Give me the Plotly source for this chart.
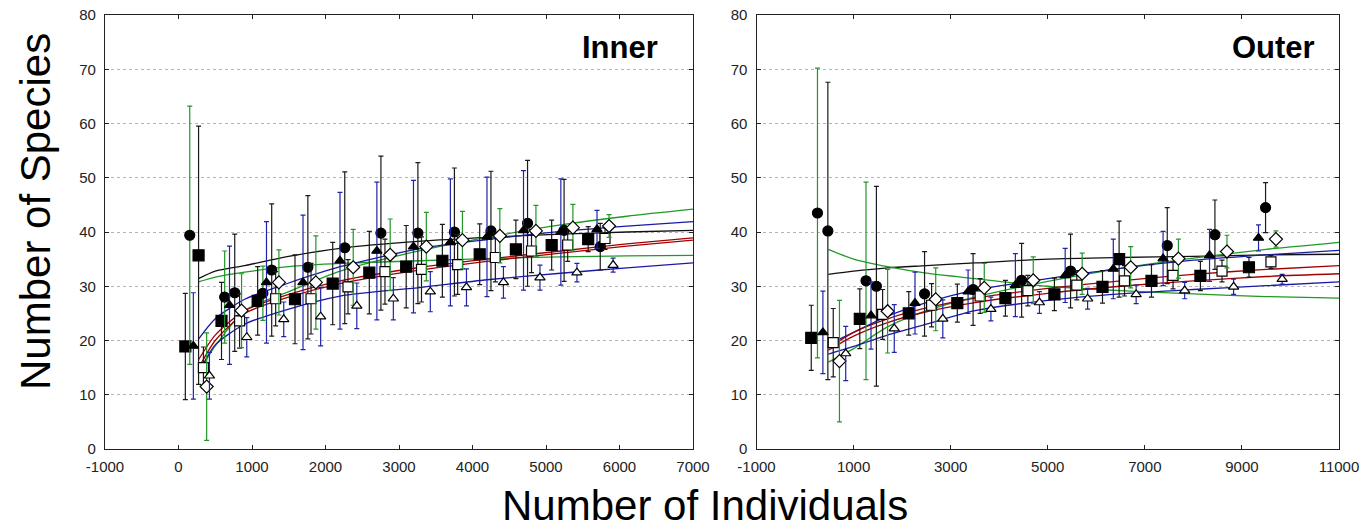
import plotly.graph_objects as go

# ---------------- data: INNER panel ----------------
in_curve_x = [270, 500, 900, 1500, 2200, 3300, 4200, 5200, 6100, 7000]
in_black = [31.4, 32.8, 33.8, 35.5, 37.0, 38.3, 39.0, 39.6, 40.0, 40.3]
in_green_lo = [30.8, 31.7, 32.6, 33.6, 34.2, 34.7, 35.1, 35.4, 35.6, 35.7]
in_green_up = [14.0, 19.0, 25.5, 29.0, 32.8, 36.6, 39.0, 41.3, 42.9, 44.2]
in_blue_up = [20.2, 24.0, 27.6, 30.6, 33.6, 37.0, 38.6, 40.1, 41.1, 41.9]
in_red_a = [16.4, 21.0, 25.5, 28.5, 31.0, 33.5, 35.0, 36.5, 37.8, 38.9]
in_red_b = [14.8, 20.0, 25.0, 28.0, 30.5, 33.0, 34.6, 36.1, 37.4, 38.5]
in_blue_lo = [14.0, 19.2, 23.0, 25.8, 28.2, 29.8, 31.2, 32.4, 33.4, 34.3]

in_fsq_x = [93, 273, 585, 1077, 1585, 2098, 2596, 3098, 3590, 4098, 4590, 5077, 5574]
in_fsq_y = [18.9, 35.7, 23.6, 27.3, 27.6, 30.5, 32.5, 33.6, 34.7, 35.9, 36.8, 37.6, 38.7]
in_fsq_e = [9.8, 23.8, 7.1, 6.3, 8.2, 7.6, 7.6, 7.6, 6.7, 5.6, 5.4, 4.6, 2.3]
in_fsq_c = ["k"] * 13

in_fci_x = [153, 628, 765, 1148, 1268, 1760, 2262, 2754, 3257, 3754, 4251, 4749, 5246, 5738]
in_fci_y = [39.4, 28.0, 28.8, 28.7, 33.0, 33.5, 37.1, 39.8, 39.8, 40.0, 40.2, 41.6, 40.3, 37.3]
in_fci_e = [23.8, 8.5, 10.8, 5.0, 12.2, 13.2, 14.0, 14.2, 13.0, 11.8, 11.0, 11.6, 9.4, 4.3]
in_fci_c = ["g", "g", "k", "g", "k", "k", "k", "k", "k", "k", "k", "k", "k", "k"]

in_ftr_x = [202, 694, 1197, 1694, 2197, 2699, 3197, 3699, 4197, 4694, 5202, 5694]
in_ftr_y = [19.0, 26.5, 30.7, 30.7, 34.7, 36.5, 37.3, 38.1, 39.1, 40.3, 40.0, 40.5]
in_ftr_e = [9.8, 10.9, 11.2, 12.4, 12.6, 12.7, 12.2, 11.7, 11.0, 11.0, 9.8, 3.5]
in_ftr_c = ["b"] * 12

in_osq_x = [339, 831, 1322, 1803, 2306, 2809, 3306, 3798, 4311, 4803, 5295, 5803]
in_osq_y = [15.0, 23.6, 27.7, 27.7, 29.9, 32.7, 33.1, 34.0, 35.3, 36.5, 37.6, 38.8]
in_osq_e = [3.8, 5.0, 5.0, 6.5, 5.0, 6.0, 6.0, 5.5, 4.5, 4.0, 3.0, 2.0]
in_osq_c = ["k"] * 12

in_odi_x = [383, 858, 1366, 1869, 2377, 2880, 3372, 3863, 4372, 4863, 5366, 5858]
in_odi_y = [11.5, 25.5, 30.7, 30.7, 33.5, 35.8, 37.3, 38.5, 39.3, 40.2, 40.8, 41.1]
in_odi_e = [9.9, 6.8, 6.0, 8.6, 7.0, 6.6, 6.3, 5.3, 5.0, 4.7, 4.3, 2.1]
in_odi_c = ["g"] * 12

in_otr_x = [421, 929, 1432, 1934, 2426, 2923, 3426, 3918, 4421, 4918, 5421, 5913]
in_otr_y = [13.5, 20.6, 23.9, 24.4, 26.4, 27.7, 29.0, 29.8, 30.7, 31.6, 32.5, 33.9]
in_otr_e = [4.3, 3.6, 3.2, 5.4, 4.2, 3.9, 3.7, 3.4, 2.9, 2.3, 1.7, 1.3]
in_otr_c = ["b"] * 12

# ---------------- data: OUTER panel ----------------
out_curve_x = [480, 1000, 1700, 2500, 3500, 5000, 6500, 8000, 9500, 11000]
out_black = [32.2, 32.8, 33.4, 33.8, 34.3, 35.0, 35.3, 35.5, 35.8, 35.9]
out_green_desc = [36.8, 35.0, 33.6, 32.4, 31.4, 30.0, 29.2, 28.6, 28.1, 27.8]
out_green_rise = [16.0, 18.5, 22.5, 25.5, 28.0, 30.9, 33.3, 35.2, 36.8, 38.1]
out_blue_up = [19.3, 21.5, 24.5, 27.0, 29.3, 31.4, 33.3, 34.8, 35.8, 36.6]
out_red_a = [18.6, 21.5, 24.0, 26.0, 27.8, 29.6, 31.0, 32.2, 33.1, 33.8]
out_red_b = [18.2, 20.8, 23.3, 25.3, 27.0, 28.7, 30.0, 31.0, 31.8, 32.3]
out_blue_lo = [17.5, 18.9, 21.0, 23.0, 25.5, 27.4, 28.6, 29.4, 30.1, 30.8]

out_fsq_x = [128, 1128, 2137, 3137, 4128, 5137, 6128, 6470, 7137, 8145, 9145]
out_fsq_y = [20.5, 24.0, 25.0, 26.9, 27.8, 28.5, 29.9, 35.0, 31.0, 31.9, 33.5]
out_fsq_e = [6.0, 5.5, 4.0, 3.5, 3.3, 3.0, 3.0, 7.0, 3.0, 2.7, 1.8]
out_fsq_c = ["k"] * 11

out_fci_x = [256, 470, 1256, 1470, 2462, 3462, 4462, 5470, 7462, 8444, 9487]
out_fci_y = [43.5, 40.2, 31.0, 30.0, 28.6, 29.4, 31.1, 32.8, 37.5, 39.5, 44.5]
out_fci_e = [26.7, 27.4, 18.2, 18.4, 7.8, 6.6, 6.8, 6.8, 7.0, 6.4, 4.6]
out_fci_c = ["g", "k", "g", "k", "k", "k", "k", "k", "k", "k", "k"]

out_ftr_x = [368, 1359, 2265, 3359, 4333, 5359, 6350, 7376, 8333, 9342]
out_ftr_y = [21.5, 24.6, 26.9, 29.0, 30.2, 32.0, 33.2, 35.1, 35.7, 38.9]
out_ftr_e = [7.6, 6.2, 5.7, 4.0, 5.8, 5.0, 5.5, 5.0, 4.8, 2.4]
out_ftr_c = ["b"] * 10

out_osq_x = [581, 1598, 2607, 3607, 4590, 5598, 6581, 7581, 8590, 9598]
out_osq_y = [19.6, 24.8, 26.5, 28.2, 29.2, 30.2, 31.0, 32.0, 32.8, 34.5]
out_osq_e = [6.3, 4.6, 4.0, 3.2, 2.8, 2.7, 2.8, 2.5, 2.0, 1.2]
out_osq_c = ["k"] * 10

out_odi_x = [709, 1701, 2692, 3692, 4701, 5709, 6709, 7692, 8692, 9701]
out_odi_y = [16.2, 25.4, 27.6, 29.7, 31.1, 32.3, 33.5, 35.1, 36.4, 38.7]
out_odi_e = [11.2, 7.7, 5.8, 4.5, 4.3, 3.8, 3.8, 3.6, 3.0, 1.5]
out_odi_c = ["g"] * 10

out_otr_x = [838, 1838, 2838, 3829, 4829, 5821, 6821, 7821, 8829, 9829]
out_otr_y = [17.6, 22.2, 24.0, 25.8, 27.0, 27.7, 28.5, 29.2, 29.9, 31.3]
out_otr_e = [5.0, 4.4, 3.5, 2.2, 2.0, 1.9, 1.7, 1.5, 1.4, 0.9]
out_otr_c = ["b"] * 10

in_xticks = [-1000, 0, 1000, 2000, 3000, 4000, 5000, 6000, 7000]
out_xticks = [-1000, 1000, 3000, 5000, 7000, 9000, 11000]
y_ticks = [0, 10, 20, 30, 40, 50, 60, 70, 80]

# ---------------- styling ----------------
ECOL = {"k": "#1a1a1a", "g": "#22962a", "b": "#1f24a8"}
LBLACK, LGREEN, LBLUE, LRED = "#111111", "#1f9a25", "#1a1aa6", "#a50000"
W, H = 1371, 532
FONT = "Liberation Sans, Arial, sans-serif"


def px(xpage):
    return xpage / W


def py(ypage):
    return 1 - ypage / H


fig = go.Figure()


def add_curve(x, y, color, xa, ya):
    fig.add_trace(go.Scatter(x=x, y=y, mode="lines", xaxis=xa, yaxis=ya,
                             line=dict(color=color, width=1.3, shape="spline", smoothing=0.7),
                             hoverinfo="skip", showlegend=False))


def add_points(x, y, e, c, symbol, filled, size, xa, ya):
    for code in sorted(set(c)):
        idx = [i for i, cc in enumerate(c) if cc == code]
        fig.add_trace(go.Scatter(
            x=[x[i] for i in idx], y=[y[i] for i in idx], mode="markers",
            xaxis=xa, yaxis=ya, showlegend=False,
            error_y=dict(type="data", array=[e[i] for i in idx], visible=True,
                         color=ECOL[code], thickness=1.2, width=2.5),
            marker=dict(symbol=symbol, size=size,
                        color="#000000" if filled else "#ffffff",
                        line=dict(color="#000000", width=1.2))))


for (xa, ya, cx, curves, series) in [
    ("x", "y", in_curve_x,
     [(in_black, LBLACK), (in_green_lo, LGREEN), (in_green_up, LGREEN), (in_blue_up, LBLUE),
      (in_red_a, LRED), (in_red_b, LRED), (in_blue_lo, LBLUE)],
     [(in_fsq_x, in_fsq_y, in_fsq_e, in_fsq_c, "square", True, 11),
      (in_fci_x, in_fci_y, in_fci_e, in_fci_c, "circle", True, 10),
      (in_ftr_x, in_ftr_y, in_ftr_e, in_ftr_c, "triangle-up", True, 9),
      (in_osq_x, in_osq_y, in_osq_e, in_osq_c, "square", False, 10),
      (in_odi_x, in_odi_y, in_odi_e, in_odi_c, "diamond", False, 10),
      (in_otr_x, in_otr_y, in_otr_e, in_otr_c, "triangle-up", False, 9)]),
    ("x2", "y2", out_curve_x,
     [(out_black, LBLACK), (out_green_desc, LGREEN), (out_green_rise, LGREEN), (out_blue_up, LBLUE),
      (out_red_a, LRED), (out_red_b, LRED), (out_blue_lo, LBLUE)],
     [(out_fsq_x, out_fsq_y, out_fsq_e, out_fsq_c, "square", True, 11),
      (out_fci_x, out_fci_y, out_fci_e, out_fci_c, "circle", True, 10),
      (out_ftr_x, out_ftr_y, out_ftr_e, out_ftr_c, "triangle-up", True, 9),
      (out_osq_x, out_osq_y, out_osq_e, out_osq_c, "square", False, 10),
      (out_odi_x, out_odi_y, out_odi_e, out_odi_c, "diamond", False, 10),
      (out_otr_x, out_otr_y, out_otr_e, out_otr_c, "triangle-up", False, 9)]),
]:
    for (yy, col) in curves:
        add_curve(cx, yy, col, xa, ya)
    for s in series:
        add_points(*s, xa, ya)

tickfont = dict(family=FONT, size=15, color="#222222")
axis_common = dict(showline=True, mirror="ticks", linecolor="#222222", linewidth=1.2,
                   ticks="inside", ticklen=4, tickcolor="#222222", zeroline=False,
                   tickfont=tickfont, automargin=False)
yaxis_common = dict(axis_common, range=[0, 80], tickvals=y_ticks,
                    ticktext=[str(v) for v in y_ticks], showgrid=True,
                    gridcolor="#b5b5b5", griddash="dot", gridwidth=1, ticklabelstandoff=5)

fig.update_layout(
    width=W, height=H, autosize=False,
    margin=dict(l=0, r=0, t=0, b=0),
    paper_bgcolor="white", plot_bgcolor="white",
    showlegend=False,
    xaxis=dict(axis_common, domain=[px(105), px(693)], range=[-1000, 7000],
               tickvals=in_xticks, ticktext=[str(v) for v in in_xticks],
               showgrid=False, anchor="y", ticklabelstandoff=4),
    yaxis=dict(yaxis_common, domain=[py(449), py(15)], anchor="x"),
    xaxis2=dict(axis_common, domain=[px(756.5), px(1339)], range=[-1000, 11000],
                tickvals=out_xticks, ticktext=[str(v) for v in out_xticks],
                showgrid=False, anchor="y2", ticklabelstandoff=4),
    yaxis2=dict(yaxis_common, domain=[py(449), py(15)], anchor="x2"),
    annotations=[
        dict(text="<b>Inner</b>", x=px(660), y=py(47), xref="paper", yref="paper",
             xanchor="right", yanchor="middle", showarrow=False,
             font=dict(family=FONT, size=31, color="#000")),
        dict(text="<b>Outer</b>", x=px(1317), y=py(47), xref="paper", yref="paper",
             xanchor="right", yanchor="middle", showarrow=False,
             font=dict(family=FONT, size=31, color="#000")),
        dict(text="Number of Species", x=px(35), y=py(212), xref="paper", yref="paper",
             xanchor="center", yanchor="middle", textangle=-90, showarrow=False,
             font=dict(family=FONT, size=42, color="#000")),
        dict(text="Number of Individuals", x=px(705), y=py(505), xref="paper", yref="paper",
             xanchor="center", yanchor="middle", showarrow=False,
             font=dict(family=FONT, size=42, color="#000")),
    ],
)

fig.write_html("out.html", config={"displayModeBar": False},
               post_script="document.body.style.margin='0';document.body.style.overflow='hidden';")
